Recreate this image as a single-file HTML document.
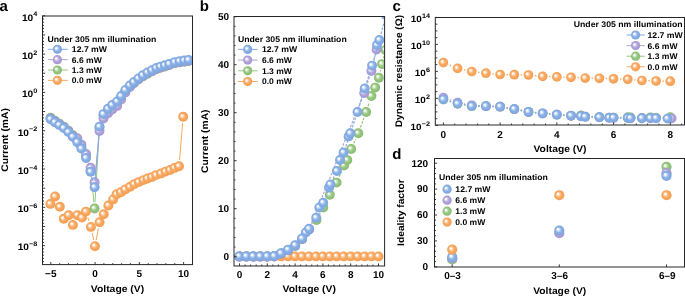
<!DOCTYPE html><html><head><meta charset="utf-8"><style>html,body{margin:0;padding:0;background:#fff;overflow:hidden;}svg{display:block;will-change:transform;} text{font-family:"Liberation Sans",sans-serif;fill:#000;text-rendering:geometricPrecision;}</style></head><body>
<svg width="685" height="297" viewBox="0 0 685 297">
<defs>
<radialGradient id="gb" cx="0.5" cy="0.5" r="0.5" fx="0.34" fy="0.35"><stop offset="0" stop-color="#ffffff"/><stop offset="0.1" stop-color="#ffffff"/><stop offset="0.26" stop-color="#d8e6f8"/><stop offset="0.55" stop-color="#8bb1e6"/><stop offset="1" stop-color="#7ca5df"/></radialGradient>
<radialGradient id="gp" cx="0.5" cy="0.5" r="0.5" fx="0.34" fy="0.35"><stop offset="0" stop-color="#ffffff"/><stop offset="0.1" stop-color="#ffffff"/><stop offset="0.26" stop-color="#e3ddf3"/><stop offset="0.55" stop-color="#b4a7da"/><stop offset="1" stop-color="#a394d0"/></radialGradient>
<radialGradient id="gg" cx="0.5" cy="0.5" r="0.5" fx="0.34" fy="0.35"><stop offset="0" stop-color="#ffffff"/><stop offset="0.1" stop-color="#ffffff"/><stop offset="0.26" stop-color="#d7ebcd"/><stop offset="0.55" stop-color="#98c883"/><stop offset="1" stop-color="#88bb71"/></radialGradient>
<radialGradient id="go" cx="0.5" cy="0.5" r="0.5" fx="0.34" fy="0.35"><stop offset="0" stop-color="#ffffff"/><stop offset="0.1" stop-color="#ffffff"/><stop offset="0.26" stop-color="#fddfc3"/><stop offset="0.55" stop-color="#f8ab66"/><stop offset="1" stop-color="#f49d50"/></radialGradient>
</defs>
<clipPath id="ca"><rect x="42.5" y="16.0" width="150.0" height="248.60000000000002"/></clipPath>
<text transform="translate(-0.50,10.50)" font-size="15" text-anchor="start" font-weight="bold">a</text>
<g clip-path="url(#ca)">
<path d="M87.91,217.55 L88.99,220.95 M92.18,233.02 L93.67,240.08 M96.14,240.07 L98.41,228.43 M179.53,159.97 L182.67,123.03 " fill="none" stroke="#f7a862" stroke-width="1"/><circle cx="50.40" cy="203.90" r="4.95" fill="url(#go)"/><circle cx="55.10" cy="196.50" r="4.95" fill="url(#go)"/><circle cx="59.80" cy="206.80" r="4.95" fill="url(#go)"/><circle cx="63.80" cy="218.80" r="4.95" fill="url(#go)"/><circle cx="68.70" cy="215.20" r="4.95" fill="url(#go)"/><circle cx="72.90" cy="224.90" r="4.95" fill="url(#go)"/><circle cx="77.40" cy="215.20" r="4.95" fill="url(#go)"/><circle cx="82.00" cy="217.60" r="4.95" fill="url(#go)"/><circle cx="86.00" cy="211.60" r="4.95" fill="url(#go)"/><circle cx="90.90" cy="226.90" r="4.95" fill="url(#go)"/><circle cx="94.95" cy="246.20" r="4.95" fill="url(#go)"/><circle cx="99.60" cy="222.30" r="4.95" fill="url(#go)"/><circle cx="103.70" cy="214.30" r="4.95" fill="url(#go)"/><circle cx="108.40" cy="205.50" r="4.95" fill="url(#go)"/><circle cx="113.10" cy="199.40" r="4.95" fill="url(#go)"/><circle cx="116.60" cy="194.20" r="4.95" fill="url(#go)"/><circle cx="120.90" cy="192.20" r="4.95" fill="url(#go)"/><circle cx="125.30" cy="189.50" r="4.95" fill="url(#go)"/><circle cx="130.10" cy="186.80" r="4.95" fill="url(#go)"/><circle cx="134.40" cy="184.10" r="4.95" fill="url(#go)"/><circle cx="138.80" cy="182.10" r="4.95" fill="url(#go)"/><circle cx="143.50" cy="180.10" r="4.95" fill="url(#go)"/><circle cx="147.50" cy="178.50" r="4.95" fill="url(#go)"/><circle cx="151.90" cy="177.10" r="4.95" fill="url(#go)"/><circle cx="156.20" cy="175.10" r="4.95" fill="url(#go)"/><circle cx="161.10" cy="173.50" r="4.95" fill="url(#go)"/><circle cx="165.60" cy="171.60" r="4.95" fill="url(#go)"/><circle cx="170.10" cy="170.00" r="4.95" fill="url(#go)"/><circle cx="174.50" cy="167.90" r="4.95" fill="url(#go)"/><circle cx="179.00" cy="166.20" r="4.95" fill="url(#go)"/><circle cx="183.20" cy="116.80" r="4.95" fill="url(#go)"/>
<path d="M88.04,162.44 L88.66,164.36 M91.25,176.52 L93.95,202.28 M94.98,202.26 L99.12,134.04 M101.40,121.85 L101.60,121.25 " fill="none" stroke="#94c57e" stroke-width="1"/><circle cx="50.60" cy="117.80" r="4.95" fill="url(#gg)"/><circle cx="54.90" cy="120.80" r="4.95" fill="url(#gg)"/><circle cx="59.30" cy="123.60" r="4.95" fill="url(#gg)"/><circle cx="63.80" cy="126.60" r="4.95" fill="url(#gg)"/><circle cx="68.40" cy="130.60" r="4.95" fill="url(#gg)"/><circle cx="72.80" cy="135.30" r="4.95" fill="url(#gg)"/><circle cx="77.30" cy="140.70" r="4.95" fill="url(#gg)"/><circle cx="81.40" cy="147.10" r="4.95" fill="url(#gg)"/><circle cx="86.10" cy="156.50" r="4.95" fill="url(#gg)"/><circle cx="90.60" cy="170.30" r="4.95" fill="url(#gg)"/><circle cx="94.60" cy="208.50" r="4.95" fill="url(#gg)"/><circle cx="99.50" cy="127.80" r="4.95" fill="url(#gg)"/><circle cx="103.50" cy="115.30" r="4.95" fill="url(#gg)"/><circle cx="108.00" cy="109.90" r="4.95" fill="url(#gg)"/><circle cx="112.20" cy="106.20" r="4.95" fill="url(#gg)"/><circle cx="117.10" cy="102.60" r="4.95" fill="url(#gg)"/><circle cx="121.10" cy="97.20" r="4.95" fill="url(#gg)"/><circle cx="125.40" cy="91.10" r="4.95" fill="url(#gg)"/><circle cx="129.90" cy="86.60" r="4.95" fill="url(#gg)"/><circle cx="133.90" cy="83.20" r="4.95" fill="url(#gg)"/><circle cx="138.40" cy="79.60" r="4.95" fill="url(#gg)"/><circle cx="142.80" cy="76.40" r="4.95" fill="url(#gg)"/><circle cx="147.50" cy="73.70" r="4.95" fill="url(#gg)"/><circle cx="151.90" cy="71.40" r="4.95" fill="url(#gg)"/><circle cx="156.40" cy="69.20" r="4.95" fill="url(#gg)"/><circle cx="160.50" cy="67.80" r="4.95" fill="url(#gg)"/><circle cx="164.90" cy="66.50" r="4.95" fill="url(#gg)"/><circle cx="169.30" cy="65.10" r="4.95" fill="url(#gg)"/><circle cx="174.80" cy="63.30" r="4.95" fill="url(#gg)"/><circle cx="179.60" cy="62.40" r="4.95" fill="url(#gg)"/><circle cx="184.30" cy="61.70" r="4.95" fill="url(#gg)"/><circle cx="188.60" cy="61.10" r="4.95" fill="url(#gg)"/>
<path d="M88.04,159.94 L88.66,161.86 M92.27,173.82 L92.93,176.18 M95.20,175.98 L98.90,137.32 M101.40,125.15 L101.60,124.55 " fill="none" stroke="#b1a4d9" stroke-width="1"/><circle cx="50.60" cy="118.50" r="4.95" fill="url(#gp)"/><circle cx="54.90" cy="121.50" r="4.95" fill="url(#gp)"/><circle cx="59.30" cy="124.30" r="4.95" fill="url(#gp)"/><circle cx="63.80" cy="127.30" r="4.95" fill="url(#gp)"/><circle cx="68.40" cy="131.30" r="4.95" fill="url(#gp)"/><circle cx="72.80" cy="136.00" r="4.95" fill="url(#gp)"/><circle cx="77.30" cy="138.20" r="4.95" fill="url(#gp)"/><circle cx="81.40" cy="144.60" r="4.95" fill="url(#gp)"/><circle cx="86.10" cy="154.00" r="4.95" fill="url(#gp)"/><circle cx="90.60" cy="167.80" r="4.95" fill="url(#gp)"/><circle cx="94.60" cy="182.20" r="4.95" fill="url(#gp)"/><circle cx="99.50" cy="131.10" r="4.95" fill="url(#gp)"/><circle cx="103.50" cy="118.60" r="4.95" fill="url(#gp)"/><circle cx="108.00" cy="113.20" r="4.95" fill="url(#gp)"/><circle cx="112.20" cy="109.50" r="4.95" fill="url(#gp)"/><circle cx="117.10" cy="105.90" r="4.95" fill="url(#gp)"/><circle cx="121.10" cy="99.50" r="4.95" fill="url(#gp)"/><circle cx="125.40" cy="92.40" r="4.95" fill="url(#gp)"/><circle cx="129.90" cy="86.90" r="4.95" fill="url(#gp)"/><circle cx="133.90" cy="82.80" r="4.95" fill="url(#gp)"/><circle cx="138.40" cy="79.20" r="4.95" fill="url(#gp)"/><circle cx="142.80" cy="76.00" r="4.95" fill="url(#gp)"/><circle cx="147.50" cy="73.30" r="4.95" fill="url(#gp)"/><circle cx="151.90" cy="71.00" r="4.95" fill="url(#gp)"/><circle cx="156.40" cy="68.80" r="4.95" fill="url(#gp)"/><circle cx="160.50" cy="67.40" r="4.95" fill="url(#gp)"/><circle cx="164.90" cy="66.10" r="4.95" fill="url(#gp)"/><circle cx="169.30" cy="64.70" r="4.95" fill="url(#gp)"/><circle cx="174.80" cy="62.90" r="4.95" fill="url(#gp)"/><circle cx="179.60" cy="62.00" r="4.95" fill="url(#gp)"/><circle cx="184.30" cy="61.30" r="4.95" fill="url(#gp)"/><circle cx="188.60" cy="60.70" r="4.95" fill="url(#gp)"/>
<path d="M88.04,163.94 L88.66,165.86 M92.17,177.85 L93.03,181.15 M95.10,180.97 L99.00,132.83 M101.40,120.65 L101.60,120.05 " fill="none" stroke="#82aae3" stroke-width="1"/><circle cx="50.60" cy="119.30" r="4.95" fill="url(#gb)"/><circle cx="54.90" cy="122.30" r="4.95" fill="url(#gb)"/><circle cx="59.30" cy="125.10" r="4.95" fill="url(#gb)"/><circle cx="63.80" cy="128.10" r="4.95" fill="url(#gb)"/><circle cx="68.40" cy="132.10" r="4.95" fill="url(#gb)"/><circle cx="72.80" cy="136.80" r="4.95" fill="url(#gb)"/><circle cx="77.30" cy="142.20" r="4.95" fill="url(#gb)"/><circle cx="81.40" cy="148.60" r="4.95" fill="url(#gb)"/><circle cx="86.10" cy="158.00" r="4.95" fill="url(#gb)"/><circle cx="90.60" cy="171.80" r="4.95" fill="url(#gb)"/><circle cx="94.60" cy="187.20" r="4.95" fill="url(#gb)"/><circle cx="99.50" cy="126.60" r="4.95" fill="url(#gb)"/><circle cx="103.50" cy="114.10" r="4.95" fill="url(#gb)"/><circle cx="108.00" cy="108.70" r="4.95" fill="url(#gb)"/><circle cx="112.20" cy="105.00" r="4.95" fill="url(#gb)"/><circle cx="117.10" cy="101.40" r="4.95" fill="url(#gb)"/><circle cx="121.10" cy="96.00" r="4.95" fill="url(#gb)"/><circle cx="125.40" cy="89.90" r="4.95" fill="url(#gb)"/><circle cx="129.90" cy="85.40" r="4.95" fill="url(#gb)"/><circle cx="133.90" cy="82.00" r="4.95" fill="url(#gb)"/><circle cx="138.40" cy="78.40" r="4.95" fill="url(#gb)"/><circle cx="142.80" cy="75.20" r="4.95" fill="url(#gb)"/><circle cx="147.50" cy="72.50" r="4.95" fill="url(#gb)"/><circle cx="151.90" cy="70.20" r="4.95" fill="url(#gb)"/><circle cx="156.40" cy="68.00" r="4.95" fill="url(#gb)"/><circle cx="160.50" cy="66.60" r="4.95" fill="url(#gb)"/><circle cx="164.90" cy="65.30" r="4.95" fill="url(#gb)"/><circle cx="169.30" cy="63.90" r="4.95" fill="url(#gb)"/><circle cx="174.80" cy="62.10" r="4.95" fill="url(#gb)"/><circle cx="179.60" cy="61.20" r="4.95" fill="url(#gb)"/><circle cx="184.30" cy="60.50" r="4.95" fill="url(#gb)"/><circle cx="188.60" cy="59.90" r="4.95" fill="url(#gb)"/>
</g>
<rect x="42.5" y="16.0" width="150.00" height="248.60" fill="none" stroke="#262626" stroke-width="1"/>
<path d="M50.80,264.6 L50.80,262.0 M95.07,264.6 L95.07,262.0 M139.33,264.6 L139.33,262.0 M183.60,264.6 L183.60,262.0 M59.66,264.6 L59.66,263.1 M68.51,264.6 L68.51,263.1 M77.36,264.6 L77.36,263.1 M86.22,264.6 L86.22,263.1 M103.92,264.6 L103.92,263.1 M112.78,264.6 L112.78,263.1 M121.63,264.6 L121.63,263.1 M130.48,264.6 L130.48,263.1 M148.19,264.6 L148.19,263.1 M157.04,264.6 L157.04,263.1 M165.89,264.6 L165.89,263.1 M174.75,264.6 L174.75,263.1 " stroke="#262626" stroke-width="0.9" fill="none"/>
<path d="M42.5,245.65 L45.1,245.65 M42.5,226.49 L45.1,226.49 M42.5,207.34 L45.1,207.34 M42.5,188.19 L45.1,188.19 M42.5,169.03 L45.1,169.03 M42.5,149.88 L45.1,149.88 M42.5,130.72 L45.1,130.72 M42.5,111.57 L45.1,111.57 M42.5,92.42 L45.1,92.42 M42.5,73.26 L45.1,73.26 M42.5,54.11 L45.1,54.11 M42.5,34.95 L45.1,34.95 M42.5,15.80 L45.1,15.80 M42.5,261.61 L44.0,261.61 M42.5,258.42 L44.0,258.42 M42.5,255.23 L44.0,255.23 M42.5,252.03 L44.0,252.03 M42.5,248.84 L44.0,248.84 M42.5,242.46 L44.0,242.46 M42.5,239.26 L44.0,239.26 M42.5,236.07 L44.0,236.07 M42.5,232.88 L44.0,232.88 M42.5,229.69 L44.0,229.69 M42.5,223.30 L44.0,223.30 M42.5,220.11 L44.0,220.11 M42.5,216.92 L44.0,216.92 M42.5,213.72 L44.0,213.72 M42.5,210.53 L44.0,210.53 M42.5,204.15 L44.0,204.15 M42.5,200.96 L44.0,200.96 M42.5,197.76 L44.0,197.76 M42.5,194.57 L44.0,194.57 M42.5,191.38 L44.0,191.38 M42.5,184.99 L44.0,184.99 M42.5,181.80 L44.0,181.80 M42.5,178.61 L44.0,178.61 M42.5,175.42 L44.0,175.42 M42.5,172.22 L44.0,172.22 M42.5,165.84 L44.0,165.84 M42.5,162.65 L44.0,162.65 M42.5,159.46 L44.0,159.46 M42.5,156.26 L44.0,156.26 M42.5,153.07 L44.0,153.07 M42.5,146.69 L44.0,146.69 M42.5,143.49 L44.0,143.49 M42.5,140.30 L44.0,140.30 M42.5,137.11 L44.0,137.11 M42.5,133.92 L44.0,133.92 M42.5,127.53 L44.0,127.53 M42.5,124.34 L44.0,124.34 M42.5,121.15 L44.0,121.15 M42.5,117.95 L44.0,117.95 M42.5,114.76 L44.0,114.76 M42.5,108.38 L44.0,108.38 M42.5,105.19 L44.0,105.19 M42.5,101.99 L44.0,101.99 M42.5,98.80 L44.0,98.80 M42.5,95.61 L44.0,95.61 M42.5,89.22 L44.0,89.22 M42.5,86.03 L44.0,86.03 M42.5,82.84 L44.0,82.84 M42.5,79.65 L44.0,79.65 M42.5,76.45 L44.0,76.45 M42.5,70.07 L44.0,70.07 M42.5,66.88 L44.0,66.88 M42.5,63.69 L44.0,63.69 M42.5,60.49 L44.0,60.49 M42.5,57.30 L44.0,57.30 M42.5,50.92 L44.0,50.92 M42.5,47.72 L44.0,47.72 M42.5,44.53 L44.0,44.53 M42.5,41.34 L44.0,41.34 M42.5,38.15 L44.0,38.15 M42.5,31.76 L44.0,31.76 M42.5,28.57 L44.0,28.57 M42.5,25.38 L44.0,25.38 M42.5,22.18 L44.0,22.18 M42.5,18.99 L44.0,18.99 " stroke="#262626" stroke-width="0.9" fill="none"/>
<text transform="translate(37.40,16.30) scale(1.1000,1)" font-size="6.6" text-anchor="end" font-weight="bold">4</text><text transform="translate(33.16,20.60) scale(1.0800,1)" font-size="9.4" text-anchor="end" font-weight="bold">10</text>
<text transform="translate(37.40,54.61) scale(1.1000,1)" font-size="6.6" text-anchor="end" font-weight="bold">2</text><text transform="translate(33.16,58.91) scale(1.0800,1)" font-size="9.4" text-anchor="end" font-weight="bold">10</text>
<text transform="translate(37.40,92.92) scale(1.1000,1)" font-size="6.6" text-anchor="end" font-weight="bold">0</text><text transform="translate(33.16,97.22) scale(1.0800,1)" font-size="9.4" text-anchor="end" font-weight="bold">10</text>
<text transform="translate(37.40,131.22) scale(1.1000,1)" font-size="6.6" text-anchor="end" font-weight="bold">&#8722;2</text><text transform="translate(28.92,135.52) scale(1.0800,1)" font-size="9.4" text-anchor="end" font-weight="bold">10</text>
<text transform="translate(37.40,169.53) scale(1.1000,1)" font-size="6.6" text-anchor="end" font-weight="bold">&#8722;4</text><text transform="translate(28.92,173.83) scale(1.0800,1)" font-size="9.4" text-anchor="end" font-weight="bold">10</text>
<text transform="translate(37.40,207.84) scale(1.1000,1)" font-size="6.6" text-anchor="end" font-weight="bold">&#8722;6</text><text transform="translate(28.92,212.14) scale(1.0800,1)" font-size="9.4" text-anchor="end" font-weight="bold">10</text>
<text transform="translate(37.40,246.15) scale(1.1000,1)" font-size="6.6" text-anchor="end" font-weight="bold">&#8722;8</text><text transform="translate(28.92,250.45) scale(1.0800,1)" font-size="9.4" text-anchor="end" font-weight="bold">10</text>
<text transform="translate(50.80,276.70)" font-size="10" text-anchor="middle" font-weight="bold">&#8722;5</text>
<text transform="translate(95.07,276.70)" font-size="10" text-anchor="middle" font-weight="bold">0</text>
<text transform="translate(139.33,276.70)" font-size="10" text-anchor="middle" font-weight="bold">5</text>
<text transform="translate(183.60,276.70)" font-size="10" text-anchor="middle" font-weight="bold">10</text>
<text transform="translate(117.50,292.30) scale(1.0804,1)" font-size="9.6" text-anchor="middle" font-weight="bold">Voltage (V)</text>
<text transform="translate(8.10,139.90) rotate(-90) scale(1.0727,1)" font-size="9.6" text-anchor="middle" font-weight="bold">Current (mA)</text>
<text transform="translate(47.50,41.80) scale(1.0632,1)" font-size="8.2" text-anchor="start" font-weight="bold">Under 305 nm illumination</text><path d="M47.9,49.30 L67.8,49.30" stroke="#82aae3" stroke-width="1"/><circle cx="57.40" cy="49.30" r="4.6" fill="url(#gb)"/><text transform="translate(71.80,52.20) scale(1.0611,1)" font-size="8.2" text-anchor="start" font-weight="bold">12.7 mW</text><path d="M47.9,59.65 L67.8,59.65" stroke="#b1a4d9" stroke-width="1"/><circle cx="57.40" cy="59.65" r="4.6" fill="url(#gp)"/><text transform="translate(71.80,62.55) scale(1.0450,1)" font-size="8.2" text-anchor="start" font-weight="bold">6.6 mW</text><path d="M47.9,70.00 L67.8,70.00" stroke="#94c57e" stroke-width="1"/><circle cx="57.40" cy="70.00" r="4.6" fill="url(#gg)"/><text transform="translate(71.80,72.90) scale(1.0450,1)" font-size="8.2" text-anchor="start" font-weight="bold">1.3 mW</text><path d="M47.9,80.35 L67.8,80.35" stroke="#f7a862" stroke-width="1"/><circle cx="57.40" cy="80.35" r="4.6" fill="url(#go)"/><text transform="translate(71.80,83.25) scale(1.0450,1)" font-size="8.2" text-anchor="start" font-weight="bold">0.0 mW</text>
<clipPath id="cb"><rect x="234.0" y="16.5" width="150.60000000000002" height="249.5"/></clipPath>
<text transform="translate(199.80,10.60)" font-size="15" text-anchor="start" font-weight="bold">b</text>
<g clip-path="url(#cb)">
<circle cx="239.50" cy="256.40" r="4.95" fill="url(#go)"/><circle cx="246.45" cy="256.40" r="4.95" fill="url(#go)"/><circle cx="253.40" cy="256.40" r="4.95" fill="url(#go)"/><circle cx="260.35" cy="256.40" r="4.95" fill="url(#go)"/><circle cx="267.30" cy="256.40" r="4.95" fill="url(#go)"/><circle cx="274.25" cy="256.40" r="4.95" fill="url(#go)"/><circle cx="281.20" cy="256.40" r="4.95" fill="url(#go)"/><circle cx="288.15" cy="256.40" r="4.95" fill="url(#go)"/><circle cx="295.10" cy="256.40" r="4.95" fill="url(#go)"/><circle cx="302.05" cy="256.40" r="4.95" fill="url(#go)"/><circle cx="309.00" cy="256.40" r="4.95" fill="url(#go)"/><circle cx="315.95" cy="256.40" r="4.95" fill="url(#go)"/><circle cx="322.90" cy="256.40" r="4.95" fill="url(#go)"/><circle cx="329.85" cy="256.40" r="4.95" fill="url(#go)"/><circle cx="336.80" cy="256.40" r="4.95" fill="url(#go)"/><circle cx="343.75" cy="256.40" r="4.95" fill="url(#go)"/><circle cx="350.70" cy="256.40" r="4.95" fill="url(#go)"/><circle cx="357.65" cy="256.40" r="4.95" fill="url(#go)"/><circle cx="364.60" cy="256.40" r="4.95" fill="url(#go)"/><circle cx="371.55" cy="256.40" r="4.95" fill="url(#go)"/><circle cx="378.50" cy="256.40" r="4.95" fill="url(#go)"/>
<path d="M319.49,214.51 L320.31,212.99 M326.15,201.94 L326.95,200.36 M332.84,189.34 L333.56,188.06 M339.08,176.86 L341.52,171.24 M353.78,143.31 L355.72,138.99 M360.47,127.44 L364.03,117.86 M368.13,106.06 L369.47,101.94 M380.29,71.61 L380.61,70.19 M383.51,58.03 L383.99,56.07 " fill="none" stroke="#94c57e" stroke-width="1.2" stroke-dasharray="2.6,1.4"/><circle cx="239.40" cy="256.50" r="4.95" fill="url(#gg)"/><circle cx="246.40" cy="256.50" r="4.95" fill="url(#gg)"/><circle cx="253.30" cy="256.50" r="4.95" fill="url(#gg)"/><circle cx="260.20" cy="256.50" r="4.95" fill="url(#gg)"/><circle cx="267.20" cy="256.50" r="4.95" fill="url(#gg)"/><circle cx="274.20" cy="256.30" r="4.95" fill="url(#gg)"/><circle cx="281.00" cy="253.50" r="4.95" fill="url(#gg)"/><circle cx="288.10" cy="250.40" r="4.95" fill="url(#gg)"/><circle cx="295.20" cy="246.00" r="4.95" fill="url(#gg)"/><circle cx="302.10" cy="239.30" r="4.95" fill="url(#gg)"/><circle cx="309.10" cy="229.60" r="4.95" fill="url(#gg)"/><circle cx="316.50" cy="220.00" r="4.95" fill="url(#gg)"/><circle cx="323.30" cy="207.50" r="4.95" fill="url(#gg)"/><circle cx="329.80" cy="194.80" r="4.95" fill="url(#gg)"/><circle cx="336.60" cy="182.60" r="4.95" fill="url(#gg)"/><circle cx="344.00" cy="165.50" r="4.95" fill="url(#gg)"/><circle cx="347.30" cy="160.10" r="4.95" fill="url(#gg)"/><circle cx="351.20" cy="149.00" r="4.95" fill="url(#gg)"/><circle cx="358.30" cy="133.30" r="4.95" fill="url(#gg)"/><circle cx="366.20" cy="112.00" r="4.95" fill="url(#gg)"/><circle cx="371.40" cy="96.00" r="4.95" fill="url(#gg)"/><circle cx="375.20" cy="87.60" r="4.95" fill="url(#gg)"/><circle cx="378.90" cy="77.70" r="4.95" fill="url(#gg)"/><circle cx="382.00" cy="64.10" r="4.95" fill="url(#gg)"/><circle cx="385.50" cy="50.00" r="4.95" fill="url(#gg)"/>
<path d="M311.44,223.60 L361.86,98.80 M366.14,87.06 L369.46,76.84 M372.88,64.83 L375.12,55.57 " fill="none" stroke="#b1a4d9" stroke-width="1.2" stroke-dasharray="2.6,1.4"/><circle cx="239.40" cy="256.80" r="4.95" fill="url(#gp)"/><circle cx="246.40" cy="256.80" r="4.95" fill="url(#gp)"/><circle cx="253.30" cy="256.80" r="4.95" fill="url(#gp)"/><circle cx="260.20" cy="256.80" r="4.95" fill="url(#gp)"/><circle cx="267.20" cy="256.80" r="4.95" fill="url(#gp)"/><circle cx="274.20" cy="256.60" r="4.95" fill="url(#gp)"/><circle cx="281.00" cy="253.80" r="4.95" fill="url(#gp)"/><circle cx="288.10" cy="250.20" r="4.95" fill="url(#gp)"/><circle cx="295.20" cy="245.80" r="4.95" fill="url(#gp)"/><circle cx="302.10" cy="239.10" r="4.95" fill="url(#gp)"/><circle cx="309.10" cy="229.40" r="4.95" fill="url(#gp)"/><circle cx="364.20" cy="93.00" r="4.95" fill="url(#gp)"/><circle cx="371.40" cy="70.90" r="4.95" fill="url(#gp)"/><circle cx="376.60" cy="49.50" r="4.95" fill="url(#gp)"/>
<path stroke-opacity="0" d="M308.77,227.00 L316.33,213.00 M322.03,201.88 L326.27,193.12 M331.32,181.70 L337.68,165.80 M342.14,154.13 L346.46,142.27 M350.45,130.43 L375.15,50.97 " fill="none" stroke="#82aae3" stroke-width="1"/><circle cx="305.80" cy="232.50" r="4.95" fill="url(#gb)"/><circle cx="319.30" cy="207.50" r="4.95" fill="url(#gb)"/><circle cx="329.00" cy="187.50" r="4.95" fill="url(#gb)"/><circle cx="340.00" cy="160.00" r="4.95" fill="url(#gb)"/><circle cx="348.60" cy="136.40" r="4.95" fill="url(#gb)"/><circle cx="377.00" cy="45.00" r="4.95" fill="url(#gb)"/>
<path d="M312.47,223.53 L312.83,222.97 M318.84,212.04 L320.56,208.36 M325.49,196.88 L328.11,190.22 M333.13,178.78 L334.17,176.62 M339.03,165.12 L341.47,158.38 M345.66,146.60 L348.24,139.20 M352.30,127.38 L355.50,117.92 M359.32,106.02 L362.88,94.38 M366.63,82.46 L370.17,71.54 M373.81,59.59 L377.69,45.91 M381.00,33.86 L384.40,21.04 " fill="none" stroke="#82aae3" stroke-width="1.2" stroke-dasharray="2.6,1.4"/><circle cx="239.40" cy="256.20" r="4.95" fill="url(#gb)"/><circle cx="246.40" cy="256.20" r="4.95" fill="url(#gb)"/><circle cx="253.30" cy="256.20" r="4.95" fill="url(#gb)"/><circle cx="260.20" cy="256.20" r="4.95" fill="url(#gb)"/><circle cx="267.20" cy="256.20" r="4.95" fill="url(#gb)"/><circle cx="274.20" cy="256.00" r="4.95" fill="url(#gb)"/><circle cx="281.00" cy="253.20" r="4.95" fill="url(#gb)"/><circle cx="288.10" cy="249.60" r="4.95" fill="url(#gb)"/><circle cx="295.20" cy="245.20" r="4.95" fill="url(#gb)"/><circle cx="302.10" cy="238.50" r="4.95" fill="url(#gb)"/><circle cx="309.10" cy="228.80" r="4.95" fill="url(#gb)"/><circle cx="316.20" cy="217.70" r="4.95" fill="url(#gb)"/><circle cx="323.20" cy="202.70" r="4.95" fill="url(#gb)"/><circle cx="330.40" cy="184.40" r="4.95" fill="url(#gb)"/><circle cx="336.90" cy="171.00" r="4.95" fill="url(#gb)"/><circle cx="343.60" cy="152.50" r="4.95" fill="url(#gb)"/><circle cx="350.30" cy="133.30" r="4.95" fill="url(#gb)"/><circle cx="357.50" cy="112.00" r="4.95" fill="url(#gb)"/><circle cx="364.70" cy="88.40" r="4.95" fill="url(#gb)"/><circle cx="372.10" cy="65.60" r="4.95" fill="url(#gb)"/><circle cx="379.40" cy="39.90" r="4.95" fill="url(#gb)"/><circle cx="386.00" cy="15.00" r="4.95" fill="url(#gb)"/>
</g>
<rect x="234.0" y="16.5" width="150.60" height="249.50" fill="none" stroke="#262626" stroke-width="1"/>
<path d="M239.50,266.0 L239.50,263.4 M267.30,266.0 L267.30,263.4 M295.10,266.0 L295.10,263.4 M322.90,266.0 L322.90,263.4 M350.70,266.0 L350.70,263.4 M378.50,266.0 L378.50,263.4 M245.06,266.0 L245.06,264.5 M250.62,266.0 L250.62,264.5 M256.18,266.0 L256.18,264.5 M261.74,266.0 L261.74,264.5 M272.86,266.0 L272.86,264.5 M278.42,266.0 L278.42,264.5 M283.98,266.0 L283.98,264.5 M289.54,266.0 L289.54,264.5 M300.66,266.0 L300.66,264.5 M306.22,266.0 L306.22,264.5 M311.78,266.0 L311.78,264.5 M317.34,266.0 L317.34,264.5 M328.46,266.0 L328.46,264.5 M334.02,266.0 L334.02,264.5 M339.58,266.0 L339.58,264.5 M345.14,266.0 L345.14,264.5 M356.26,266.0 L356.26,264.5 M361.82,266.0 L361.82,264.5 M367.38,266.0 L367.38,264.5 M372.94,266.0 L372.94,264.5 " stroke="#262626" stroke-width="0.9" fill="none"/>
<path d="M234.0,256.70 L236.6,256.70 M234.0,208.70 L236.6,208.70 M234.0,160.70 L236.6,160.70 M234.0,112.70 L236.6,112.70 M234.0,64.70 L236.6,64.70 M234.0,16.70 L236.6,16.70 M234.0,247.10 L235.5,247.10 M234.0,237.50 L235.5,237.50 M234.0,227.90 L235.5,227.90 M234.0,218.30 L235.5,218.30 M234.0,199.10 L235.5,199.10 M234.0,189.50 L235.5,189.50 M234.0,179.90 L235.5,179.90 M234.0,170.30 L235.5,170.30 M234.0,151.10 L235.5,151.10 M234.0,141.50 L235.5,141.50 M234.0,131.90 L235.5,131.90 M234.0,122.30 L235.5,122.30 M234.0,103.10 L235.5,103.10 M234.0,93.50 L235.5,93.50 M234.0,83.90 L235.5,83.90 M234.0,74.30 L235.5,74.30 M234.0,55.10 L235.5,55.10 M234.0,45.50 L235.5,45.50 M234.0,35.90 L235.5,35.90 M234.0,26.30 L235.5,26.30 " stroke="#262626" stroke-width="0.9" fill="none"/>
<text transform="translate(229.10,260.20)" font-size="10" text-anchor="end" font-weight="bold">0</text>
<text transform="translate(229.10,212.20)" font-size="10" text-anchor="end" font-weight="bold">10</text>
<text transform="translate(229.10,164.20)" font-size="10" text-anchor="end" font-weight="bold">20</text>
<text transform="translate(229.10,116.20)" font-size="10" text-anchor="end" font-weight="bold">30</text>
<text transform="translate(229.10,68.20)" font-size="10" text-anchor="end" font-weight="bold">40</text>
<text transform="translate(229.10,20.20)" font-size="10" text-anchor="end" font-weight="bold">50</text>
<text transform="translate(239.50,278.20)" font-size="10" text-anchor="middle" font-weight="bold">0</text>
<text transform="translate(267.30,278.20)" font-size="10" text-anchor="middle" font-weight="bold">2</text>
<text transform="translate(295.10,278.20)" font-size="10" text-anchor="middle" font-weight="bold">4</text>
<text transform="translate(322.90,278.20)" font-size="10" text-anchor="middle" font-weight="bold">6</text>
<text transform="translate(350.70,278.20)" font-size="10" text-anchor="middle" font-weight="bold">8</text>
<text transform="translate(378.50,278.20)" font-size="10" text-anchor="middle" font-weight="bold">10</text>
<text transform="translate(309.25,291.50) scale(1.0804,1)" font-size="9.6" text-anchor="middle" font-weight="bold">Voltage (V)</text>
<text transform="translate(207.60,141.20) rotate(-90) scale(1.0727,1)" font-size="9.6" text-anchor="middle" font-weight="bold">Current (mA)</text>
<text transform="translate(237.90,42.00) scale(1.0632,1)" font-size="8.2" text-anchor="start" font-weight="bold">Under 305 nm illumination</text><path d="M238.1,49.40 L257.6,49.40" stroke="#82aae3" stroke-width="1"/><circle cx="247.70" cy="49.40" r="4.6" fill="url(#gb)"/><text transform="translate(261.90,52.30) scale(1.0611,1)" font-size="8.2" text-anchor="start" font-weight="bold">12.7 mW</text><path d="M238.1,60.10 L257.6,60.10" stroke="#b1a4d9" stroke-width="1"/><circle cx="247.70" cy="60.10" r="4.6" fill="url(#gp)"/><text transform="translate(261.90,63.00) scale(1.0450,1)" font-size="8.2" text-anchor="start" font-weight="bold">6.6 mW</text><path d="M238.1,70.80 L257.6,70.80" stroke="#94c57e" stroke-width="1"/><circle cx="247.70" cy="70.80" r="4.6" fill="url(#gg)"/><text transform="translate(261.90,73.70) scale(1.0450,1)" font-size="8.2" text-anchor="start" font-weight="bold">1.3 mW</text><path d="M238.1,81.50 L257.6,81.50" stroke="#f7a862" stroke-width="1"/><circle cx="247.70" cy="81.50" r="4.6" fill="url(#go)"/><text transform="translate(261.90,84.40) scale(1.0450,1)" font-size="8.2" text-anchor="start" font-weight="bold">0.0 mW</text>
<clipPath id="cc"><rect x="435.3" y="17.5" width="249.2" height="107.5"/></clipPath>
<text transform="translate(392.60,10.60)" font-size="15" text-anchor="start" font-weight="bold">c</text>
<g clip-path="url(#cc)">
<path d="M449.77,101.43 L451.21,101.87 M463.93,104.87 L465.41,105.13 M478.10,106.20 L479.60,106.20 M492.28,106.42 L493.78,106.48 M506.47,107.82 L507.95,108.08 M520.65,110.45 L522.13,110.75 M534.82,112.67 L536.32,112.83 M549.00,114.04 L550.50,114.16 M563.18,115.19 L564.68,115.31 M591.54,116.72 L593.04,116.78 M619.90,117.37 L621.40,117.33 M662.44,117.59 L663.94,117.51 " fill="none" stroke="#94c57e" stroke-width="1.3"/><circle cx="443.40" cy="99.50" r="4.85" fill="url(#gg)"/><circle cx="457.58" cy="103.80" r="4.85" fill="url(#gg)"/><circle cx="471.76" cy="106.20" r="4.85" fill="url(#gg)"/><circle cx="485.94" cy="106.20" r="4.85" fill="url(#gg)"/><circle cx="500.12" cy="106.70" r="4.85" fill="url(#gg)"/><circle cx="514.30" cy="109.20" r="4.85" fill="url(#gg)"/><circle cx="528.48" cy="112.00" r="4.85" fill="url(#gg)"/><circle cx="542.66" cy="113.50" r="4.85" fill="url(#gg)"/><circle cx="556.84" cy="114.70" r="4.85" fill="url(#gg)"/><circle cx="571.02" cy="115.80" r="4.85" fill="url(#gg)"/><circle cx="580.95" cy="115.40" r="4.85" fill="url(#gg)"/><circle cx="585.20" cy="116.50" r="4.85" fill="url(#gg)"/><circle cx="599.38" cy="117.00" r="4.85" fill="url(#gg)"/><circle cx="609.31" cy="117.50" r="4.85" fill="url(#gg)"/><circle cx="613.56" cy="117.50" r="4.85" fill="url(#gg)"/><circle cx="627.74" cy="117.20" r="4.85" fill="url(#gg)"/><circle cx="630.58" cy="117.40" r="4.85" fill="url(#gg)"/><circle cx="641.92" cy="117.90" r="4.85" fill="url(#gg)"/><circle cx="650.43" cy="117.30" r="4.85" fill="url(#gg)"/><circle cx="656.10" cy="117.90" r="4.85" fill="url(#gg)"/><circle cx="670.28" cy="117.20" r="4.85" fill="url(#gg)"/>
<path d="M449.78,99.85 L451.20,100.35 M463.93,103.81 L465.41,104.09 M478.10,105.70 L479.60,105.80 M492.28,106.42 L493.78,106.48 M506.47,107.82 L507.95,108.08 M520.65,110.45 L522.13,110.75 M534.82,112.67 L536.32,112.83 M549.00,114.04 L550.50,114.16 M563.18,115.19 L564.68,115.31 M591.54,117.12 L593.04,117.18 M619.90,117.99 L621.40,118.01 M663.15,118.35 L664.65,118.35 " fill="none" stroke="#b1a4d9" stroke-width="1.3"/><circle cx="443.40" cy="97.60" r="4.85" fill="url(#gp)"/><circle cx="457.58" cy="102.60" r="4.85" fill="url(#gp)"/><circle cx="471.76" cy="105.30" r="4.85" fill="url(#gp)"/><circle cx="485.94" cy="106.20" r="4.85" fill="url(#gp)"/><circle cx="500.12" cy="106.70" r="4.85" fill="url(#gp)"/><circle cx="514.30" cy="109.20" r="4.85" fill="url(#gp)"/><circle cx="528.48" cy="112.00" r="4.85" fill="url(#gp)"/><circle cx="542.66" cy="113.50" r="4.85" fill="url(#gp)"/><circle cx="556.84" cy="114.70" r="4.85" fill="url(#gp)"/><circle cx="571.02" cy="115.80" r="4.85" fill="url(#gp)"/><circle cx="580.95" cy="116.20" r="4.85" fill="url(#gp)"/><circle cx="585.20" cy="116.90" r="4.85" fill="url(#gp)"/><circle cx="599.38" cy="117.40" r="4.85" fill="url(#gp)"/><circle cx="609.31" cy="117.90" r="4.85" fill="url(#gp)"/><circle cx="613.56" cy="117.90" r="4.85" fill="url(#gp)"/><circle cx="627.74" cy="118.10" r="4.85" fill="url(#gp)"/><circle cx="630.58" cy="118.30" r="4.85" fill="url(#gp)"/><circle cx="641.92" cy="118.30" r="4.85" fill="url(#gp)"/><circle cx="650.43" cy="118.30" r="4.85" fill="url(#gp)"/><circle cx="656.10" cy="118.30" r="4.85" fill="url(#gp)"/><circle cx="671.70" cy="118.40" r="4.85" fill="url(#gp)"/>
<path d="M449.77,101.23 L451.21,101.67 M463.93,104.67 L465.41,104.93 M478.10,106.00 L479.60,106.00 M492.28,106.22 L493.78,106.28 M506.47,107.62 L507.95,107.88 M520.65,110.25 L522.13,110.55 M534.82,112.47 L536.32,112.63 M549.00,113.84 L550.50,113.96 M563.18,114.99 L564.68,115.11 M591.54,116.92 L593.04,116.98 M619.90,117.79 L621.40,117.81 " fill="none" stroke="#82aae3" stroke-width="1.3"/><circle cx="443.40" cy="99.30" r="4.85" fill="url(#gb)"/><circle cx="457.58" cy="103.60" r="4.85" fill="url(#gb)"/><circle cx="471.76" cy="106.00" r="4.85" fill="url(#gb)"/><circle cx="485.94" cy="106.00" r="4.85" fill="url(#gb)"/><circle cx="500.12" cy="106.50" r="4.85" fill="url(#gb)"/><circle cx="514.30" cy="109.00" r="4.85" fill="url(#gb)"/><circle cx="528.48" cy="111.80" r="4.85" fill="url(#gb)"/><circle cx="542.66" cy="113.30" r="4.85" fill="url(#gb)"/><circle cx="556.84" cy="114.50" r="4.85" fill="url(#gb)"/><circle cx="571.02" cy="115.60" r="4.85" fill="url(#gb)"/><circle cx="580.95" cy="116.00" r="4.85" fill="url(#gb)"/><circle cx="585.20" cy="116.70" r="4.85" fill="url(#gb)"/><circle cx="599.38" cy="117.20" r="4.85" fill="url(#gb)"/><circle cx="609.31" cy="117.70" r="4.85" fill="url(#gb)"/><circle cx="613.56" cy="117.70" r="4.85" fill="url(#gb)"/><circle cx="627.74" cy="117.90" r="4.85" fill="url(#gb)"/><circle cx="630.58" cy="118.10" r="4.85" fill="url(#gb)"/><circle cx="641.92" cy="118.10" r="4.85" fill="url(#gb)"/><circle cx="650.43" cy="118.10" r="4.85" fill="url(#gb)"/><circle cx="656.10" cy="118.10" r="4.85" fill="url(#gb)"/><circle cx="667.44" cy="118.60" r="4.85" fill="url(#gb)"/>
<path d="M449.80,65.22 L451.18,65.78 M463.94,69.79 L465.40,70.11 M478.11,72.26 L479.59,72.44 M492.28,73.78 L493.78,73.92 M506.46,74.59 L507.96,74.61 M520.64,74.83 L522.14,74.87 M534.82,75.63 L536.32,75.77 M549.00,76.62 L550.50,76.68 M563.18,77.08 L564.68,77.12 M577.36,77.66 L578.86,77.74 M591.54,78.19 L593.04,78.21 M605.72,78.52 L607.22,78.58 M619.90,79.02 L621.40,79.08 M634.08,79.84 L635.58,79.96 M648.26,80.72 L649.76,80.78 M662.44,81.09 L663.94,81.11 " fill="none" stroke="#f7a862" stroke-width="1.3"/><circle cx="443.40" cy="62.60" r="4.85" fill="url(#go)"/><circle cx="457.58" cy="68.40" r="4.85" fill="url(#go)"/><circle cx="471.76" cy="71.50" r="4.85" fill="url(#go)"/><circle cx="485.94" cy="73.20" r="4.85" fill="url(#go)"/><circle cx="500.12" cy="74.50" r="4.85" fill="url(#go)"/><circle cx="514.30" cy="74.70" r="4.85" fill="url(#go)"/><circle cx="528.48" cy="75.00" r="4.85" fill="url(#go)"/><circle cx="542.66" cy="76.40" r="4.85" fill="url(#go)"/><circle cx="556.84" cy="76.90" r="4.85" fill="url(#go)"/><circle cx="571.02" cy="77.30" r="4.85" fill="url(#go)"/><circle cx="585.20" cy="78.10" r="4.85" fill="url(#go)"/><circle cx="599.38" cy="78.30" r="4.85" fill="url(#go)"/><circle cx="613.56" cy="78.80" r="4.85" fill="url(#go)"/><circle cx="627.74" cy="79.30" r="4.85" fill="url(#go)"/><circle cx="641.92" cy="80.50" r="4.85" fill="url(#go)"/><circle cx="656.10" cy="81.00" r="4.85" fill="url(#go)"/><circle cx="670.28" cy="81.20" r="4.85" fill="url(#go)"/>
</g>
<rect x="435.3" y="17.5" width="249.20" height="107.50" fill="none" stroke="#262626" stroke-width="1"/>
<path d="M443.40,125.0 L443.40,122.4 M500.12,125.0 L500.12,122.4 M556.84,125.0 L556.84,122.4 M613.56,125.0 L613.56,122.4 M670.28,125.0 L670.28,122.4 M454.74,125.0 L454.74,123.5 M466.09,125.0 L466.09,123.5 M477.43,125.0 L477.43,123.5 M488.78,125.0 L488.78,123.5 M511.46,125.0 L511.46,123.5 M522.81,125.0 L522.81,123.5 M534.15,125.0 L534.15,123.5 M545.50,125.0 L545.50,123.5 M568.18,125.0 L568.18,123.5 M579.53,125.0 L579.53,123.5 M590.87,125.0 L590.87,123.5 M602.22,125.0 L602.22,123.5 M624.90,125.0 L624.90,123.5 M636.25,125.0 L636.25,123.5 M647.59,125.0 L647.59,123.5 M658.94,125.0 L658.94,123.5 M681.62,125.0 L681.62,123.5 " stroke="#262626" stroke-width="0.9" fill="none"/>
<path d="M435.3,125.40 L437.90000000000003,125.40 M435.3,98.40 L437.90000000000003,98.40 M435.3,71.40 L437.90000000000003,71.40 M435.3,44.40 L437.90000000000003,44.40 M435.3,17.40 L437.90000000000003,17.40 M435.3,118.65 L437.40000000000003,118.65 M435.3,111.90 L437.40000000000003,111.90 M435.3,105.15 L437.40000000000003,105.15 M435.3,91.65 L437.40000000000003,91.65 M435.3,84.90 L437.40000000000003,84.90 M435.3,78.15 L437.40000000000003,78.15 M435.3,64.65 L437.40000000000003,64.65 M435.3,57.90 L437.40000000000003,57.90 M435.3,51.15 L437.40000000000003,51.15 M435.3,37.65 L437.40000000000003,37.65 M435.3,30.90 L437.40000000000003,30.90 M435.3,24.15 L437.40000000000003,24.15 " stroke="#262626" stroke-width="0.9" fill="none"/>
<text transform="translate(430.10,18.40) scale(1.1000,1)" font-size="6.6" text-anchor="end" font-weight="bold">14</text><text transform="translate(421.82,22.10) scale(1.1000,1)" font-size="9.0" text-anchor="end" font-weight="bold">10</text>
<text transform="translate(430.10,45.40) scale(1.1000,1)" font-size="6.6" text-anchor="end" font-weight="bold">10</text><text transform="translate(421.82,49.10) scale(1.1000,1)" font-size="9.0" text-anchor="end" font-weight="bold">10</text>
<text transform="translate(430.10,72.40) scale(1.1000,1)" font-size="6.6" text-anchor="end" font-weight="bold">6</text><text transform="translate(425.86,76.10) scale(1.1000,1)" font-size="9.0" text-anchor="end" font-weight="bold">10</text>
<text transform="translate(430.10,99.40) scale(1.1000,1)" font-size="6.6" text-anchor="end" font-weight="bold">2</text><text transform="translate(425.86,103.10) scale(1.1000,1)" font-size="9.0" text-anchor="end" font-weight="bold">10</text>
<text transform="translate(430.10,126.40) scale(1.1000,1)" font-size="6.6" text-anchor="end" font-weight="bold">&#8722;2</text><text transform="translate(421.62,130.10) scale(1.1000,1)" font-size="9.0" text-anchor="end" font-weight="bold">10</text>
<text transform="translate(443.40,137.50)" font-size="10" text-anchor="middle" font-weight="bold">0</text>
<text transform="translate(500.12,137.50)" font-size="10" text-anchor="middle" font-weight="bold">2</text>
<text transform="translate(556.84,137.50)" font-size="10" text-anchor="middle" font-weight="bold">4</text>
<text transform="translate(613.56,137.50)" font-size="10" text-anchor="middle" font-weight="bold">6</text>
<text transform="translate(670.28,137.50)" font-size="10" text-anchor="middle" font-weight="bold">8</text>
<text transform="translate(560.00,152.20) scale(1.0723,1)" font-size="9.6" text-anchor="middle" font-weight="bold">Voltage (V)</text>
<text transform="translate(402.20,71.00) rotate(-90) scale(1.0510,1)" font-size="9.6" text-anchor="middle" font-weight="bold">Dynamic resistance (&#937;)</text>
<text transform="translate(682.60,26.60) scale(1.0632,1)" font-size="8.2" text-anchor="end" font-weight="bold">Under 305 nm illumination</text><path d="M626.6,35.00 L644.8,35.00" stroke="#82aae3" stroke-width="1"/><circle cx="635.60" cy="35.00" r="4.6" fill="url(#gb)"/><text transform="translate(647.50,37.90) scale(1.0611,1)" font-size="8.2" text-anchor="start" font-weight="bold">12.7 mW</text><path d="M626.6,45.60 L644.8,45.60" stroke="#b1a4d9" stroke-width="1"/><circle cx="635.60" cy="45.60" r="4.6" fill="url(#gp)"/><text transform="translate(647.50,48.50) scale(1.0450,1)" font-size="8.2" text-anchor="start" font-weight="bold">6.6 mW</text><path d="M626.6,56.20 L644.8,56.20" stroke="#94c57e" stroke-width="1"/><circle cx="635.60" cy="56.20" r="4.6" fill="url(#gg)"/><text transform="translate(647.50,59.10) scale(1.0450,1)" font-size="8.2" text-anchor="start" font-weight="bold">1.3 mW</text><path d="M626.6,66.80 L644.8,66.80" stroke="#f7a862" stroke-width="1"/><circle cx="635.60" cy="66.80" r="4.6" fill="url(#go)"/><text transform="translate(647.50,69.70) scale(1.0450,1)" font-size="8.2" text-anchor="start" font-weight="bold">0.0 mW</text>
<text transform="translate(392.20,159.40)" font-size="15" text-anchor="start" font-weight="bold">d</text>
<circle cx="452.20" cy="259.46" r="5.1" fill="url(#gg)"/>
<circle cx="452.20" cy="258.17" r="5.1" fill="url(#gp)"/>
<circle cx="452.20" cy="257.22" r="5.1" fill="url(#gb)"/>
<circle cx="452.20" cy="249.62" r="5.1" fill="url(#go)"/>
<circle cx="559.30" cy="233.13" r="5.1" fill="url(#gp)"/>
<circle cx="559.30" cy="230.54" r="5.1" fill="url(#gb)"/>
<circle cx="559.30" cy="195.23" r="5.1" fill="url(#go)"/>
<circle cx="666.50" cy="166.83" r="5.1" fill="url(#gg)"/>
<circle cx="666.50" cy="173.13" r="5.1" fill="url(#gp)"/>
<circle cx="666.50" cy="175.81" r="5.1" fill="url(#gb)"/>
<circle cx="666.50" cy="195.23" r="5.1" fill="url(#go)"/>
<rect x="434.5" y="158.5" width="250.00" height="108.50" fill="none" stroke="#262626" stroke-width="1"/>
<path d="M452.20,267.0 L452.20,264.4 M559.30,267.0 L559.30,264.4 M666.50,267.0 L666.50,264.4 " stroke="#262626" stroke-width="0.9" fill="none"/>
<path d="M434.5,266.80 L437.1,266.80 M434.5,240.90 L437.1,240.90 M434.5,215.00 L437.1,215.00 M434.5,189.10 L437.1,189.10 M434.5,163.20 L437.1,163.20 M434.5,261.62 L436.0,261.62 M434.5,256.44 L436.0,256.44 M434.5,251.26 L436.0,251.26 M434.5,246.08 L436.0,246.08 M434.5,235.72 L436.0,235.72 M434.5,230.54 L436.0,230.54 M434.5,225.36 L436.0,225.36 M434.5,220.18 L436.0,220.18 M434.5,209.82 L436.0,209.82 M434.5,204.64 L436.0,204.64 M434.5,199.46 L436.0,199.46 M434.5,194.28 L436.0,194.28 M434.5,183.92 L436.0,183.92 M434.5,178.74 L436.0,178.74 M434.5,173.56 L436.0,173.56 M434.5,168.38 L436.0,168.38 " stroke="#262626" stroke-width="0.9" fill="none"/>
<text transform="translate(428.10,270.10)" font-size="10" text-anchor="end" font-weight="bold">0</text>
<text transform="translate(428.10,244.20)" font-size="10" text-anchor="end" font-weight="bold">30</text>
<text transform="translate(428.10,218.30)" font-size="10" text-anchor="end" font-weight="bold">60</text>
<text transform="translate(428.10,192.40)" font-size="10" text-anchor="end" font-weight="bold">90</text>
<text transform="translate(428.10,166.50)" font-size="10" text-anchor="end" font-weight="bold">120</text>
<text transform="translate(452.50,279.30)" font-size="10" text-anchor="middle" font-weight="bold">0&#8211;3</text>
<text transform="translate(559.70,279.30)" font-size="10" text-anchor="middle" font-weight="bold">3&#8211;6</text>
<text transform="translate(667.30,279.30)" font-size="10" text-anchor="middle" font-weight="bold">6&#8211;9</text>
<text transform="translate(559.70,294.00) scale(1.0723,1)" font-size="9.6" text-anchor="middle" font-weight="bold">Voltage (V)</text>
<text transform="translate(404.40,212.60) rotate(-90) scale(1.0670,1)" font-size="9.6" text-anchor="middle" font-weight="bold">Ideality factor</text>
<text transform="translate(439.00,180.10) scale(1.0632,1)" font-size="8.2" text-anchor="start" font-weight="bold">Under 305 nm illumination</text><circle cx="447.10" cy="189.20" r="4.6" fill="url(#gb)"/><text transform="translate(455.30,192.10) scale(1.0611,1)" font-size="8.2" text-anchor="start" font-weight="bold">12.7 mW</text><circle cx="447.10" cy="200.17" r="4.6" fill="url(#gp)"/><text transform="translate(455.30,203.07) scale(1.0450,1)" font-size="8.2" text-anchor="start" font-weight="bold">6.6 mW</text><circle cx="447.10" cy="211.14" r="4.6" fill="url(#gg)"/><text transform="translate(455.30,214.04) scale(1.0450,1)" font-size="8.2" text-anchor="start" font-weight="bold">1.3 mW</text><circle cx="447.10" cy="222.11" r="4.6" fill="url(#go)"/><text transform="translate(455.30,225.01) scale(1.0450,1)" font-size="8.2" text-anchor="start" font-weight="bold">0.0 mW</text>
</svg></body></html>
